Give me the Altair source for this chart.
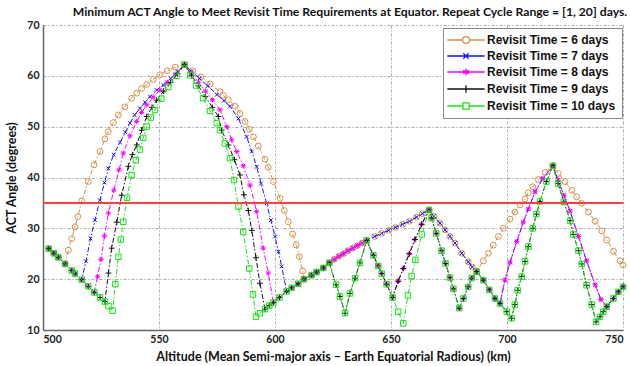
import altair as alt
import pandas as pd

# ---------------------------------------------------------------------------
# Minimum ACT angle (deg) versus altitude (km) for revisit times of 6..10 days.
# Each curve is assembled from the piecewise segments below; segments shared by
# several revisit times are listed once.  Points are (altitude_km, angle_deg).
# ---------------------------------------------------------------------------

# common lower envelope on the left (each curve leaves it at its own point)
ENV_A = [(502.5, 26.0), (504.7, 25.1), (506.6, 24.3), (509.5, 23.0)]
ENV_B = [(512.4, 21.7), (513.8, 21.1), (516.7, 19.9)]
ENV_C = [(519.5, 18.6), (522.1, 17.4)]
ENV_D = [(524.6, 16.4), (526.7, 15.6)]
ENV_E = [(528.2, 14.7), (530.0, 13.8)]

# large hump peaking at 561 km
RISE_6 = [(510.9, 25.7), (512.4, 28.0), (513.8, 30.3), (515.0, 32.3), (516.7, 35.4),
          (519.5, 39.2), (522.0, 42.5), (524.6, 45.1), (526.7, 47.6), (528.1, 49.0),
          (530.3, 50.8), (532.5, 52.3), (535.3, 53.9), (538.2, 55.6), (540.4, 56.6),
          (542.5, 57.5), (544.7, 58.3), (547.5, 59.3), (550.4, 60.2), (553.5, 61.0),
          (557.0, 61.7), (561.0, 62.2)]
FALL_6 = [(564.5, 61.0), (568.0, 59.8), (572.0, 58.4), (576.3, 56.9), (577.7, 56.2),
          (579.9, 55.3), (582.8, 54.0), (584.9, 52.6), (587.1, 51.0), (588.9, 49.5),
          (590.7, 48.0), (592.8, 46.2), (595.7, 43.6), (597.1, 42.0), (599.3, 39.2),
          (602.2, 35.9), (604.0, 33.5), (605.7, 31.3), (607.6, 28.9), (609.1, 26.7),
          (610.5, 24.4), (611.9, 21.6), (612.5, 20.0)]

RISE_7 = [(518.5, 23.5), (520.5, 28.0), (522.4, 31.6), (524.5, 35.5), (526.5, 39.0),
          (528.2, 41.8), (530.5, 44.5), (533.2, 46.9), (535.5, 48.9), (537.5, 50.7),
          (539.5, 52.3), (541.8, 53.6), (544.0, 54.8), (546.1, 55.9), (549.0, 57.2),
          (551.9, 58.2), (555.0, 59.5), (558.0, 60.9), (561.0, 62.2)]
FALL_7 = [(564.0, 60.9), (567.5, 59.5), (571.0, 58.0), (575.0, 56.3), (578.0, 55.1),
          (580.6, 54.0), (584.2, 51.6), (587.8, 48.0), (590.0, 45.1), (592.1, 42.1),
          (594.0, 38.8), (596.4, 34.9), (598.2, 31.6), (600.0, 28.4), (601.5, 25.4),
          (602.9, 22.5), (605.0, 17.6)]

RISE_8 = [(523.5, 20.5), (525.0, 23.9), (526.5, 28.5), (528.2, 33.0), (530.5, 37.5),
          (532.8, 41.5), (534.6, 44.8), (537.5, 48.2), (540.4, 51.0), (542.5, 52.8),
          (544.7, 54.3), (547.5, 55.8), (550.4, 57.2), (553.5, 58.7), (557.0, 60.3),
          (561.0, 62.2)]
FALL_8 = [(564.0, 60.5), (567.0, 58.7), (570.0, 57.0), (573.0, 55.3), (576.3, 53.3),
          (579.2, 50.0), (581.3, 47.4), (583.5, 45.1), (586.3, 42.3), (589.2, 38.5),
          (592.1, 33.3), (594.9, 26.1), (597.1, 21.2), (599.3, 15.4)]

RISE_9 = [(528.2, 21.2), (529.6, 26.1), (531.8, 31.2), (533.9, 36.5), (536.8, 42.2),
          (538.5, 44.5), (540.4, 46.4), (542.5, 49.3), (544.7, 52.0), (547.0, 53.8),
          (549.0, 55.2), (552.0, 57.0), (555.0, 58.7), (558.0, 60.4), (561.0, 62.2)]
FALL_9 = [(564.0, 60.1), (567.0, 58.0), (570.0, 55.9), (573.0, 53.8), (575.6, 52.0),
          (577.0, 49.3), (579.9, 46.4), (582.5, 43.5), (584.9, 40.5), (586.6, 36.6),
          (588.5, 33.5), (590.0, 29.6), (591.8, 24.2), (593.5, 19.2), (595.7, 14.1)]

RISE_10 = [(531.2, 19.0), (532.5, 24.4), (533.5, 27.8), (534.6, 31.3), (536.2, 36.0),
           (538.2, 40.5), (540.0, 43.4), (541.8, 45.5), (543.2, 47.8), (544.7, 50.0),
           (546.5, 51.8), (548.3, 53.3), (551.0, 55.5), (554.0, 57.8), (557.5, 60.0),
           (561.0, 62.2)]
FALL_10 = [(563.5, 60.1), (566.0, 58.1), (569.0, 55.6), (572.0, 53.1), (574.9, 50.7),
           (576.3, 49.3), (578.4, 46.7), (580.6, 43.8), (582.3, 39.5), (584.2, 34.3),
           (586.3, 29.3), (588.9, 22.1), (590.5, 17.0), (591.8, 12.6)]

# common envelope between the two humps
MID_1 = [(593.5, 13.3), (595.7, 14.1)]
MID_2 = [(597.5, 14.8), (599.3, 15.4)]
MID_3 = [(601.9, 16.4), (605.0, 17.6)]
MID_4 = [(607.2, 18.3), (610.0, 19.1), (612.5, 20.0)]
MID_5 = [(615.8, 20.8), (617.9, 21.4), (620.8, 22.2), (623.4, 23.2)]

# 623 - 640 km
UPPER_1 = [(625.5, 23.9), (627.5, 24.5), (629.5, 25.0), (631.5, 25.6), (633.5, 26.1),
           (635.5, 26.6), (637.5, 27.1), (639.5, 27.6)]
LOWER_1 = [(626.3, 18.9), (628.0, 16.6), (630.2, 13.3), (632.3, 17.2), (634.5, 20.2),
           (636.6, 23.2), (639.5, 27.6)]

# 640 - 666 km
UPPER_2 = [(643.0, 28.4), (646.0, 29.0), (649.0, 29.6), (652.0, 30.2), (655.0, 30.8),
           (658.0, 31.4), (661.0, 32.2), (663.5, 32.9), (666.4, 33.6)]
DOWN_2 = [(642.4, 24.7), (644.5, 22.6), (646.0, 21.1), (648.1, 19.0), (650.7, 16.4)]
UP_2 = [(653.1, 19.6), (655.3, 22.1), (657.9, 25.0), (660.3, 27.8), (663.2, 30.8),
        (666.4, 33.6)]
DEEP_2 = [(653.1, 13.6), (655.3, 11.3), (657.3, 16.8), (658.9, 20.6), (660.5, 23.8),
          (663.3, 28.8), (666.4, 33.6)]

# 666 - 687 km
DOWN_3U = [(668.5, 32.4), (671.1, 31.0), (673.3, 29.7), (675.4, 28.4), (677.6, 27.1),
           (680.5, 25.1), (683.3, 23.4), (685.0, 22.4), (686.9, 21.5)]
DOWN_3L = [(667.5, 32.0), (669.5, 29.0), (671.8, 25.6), (673.5, 23.1), (675.4, 20.3),
           (676.9, 18.1), (679.4, 14.3), (681.2, 16.2), (683.3, 18.5), (684.8, 20.2),
           (686.9, 21.5)]

# 687 - 720 km
RISE_4U = [(689.8, 23.6), (692.0, 25.1), (694.1, 26.7), (696.3, 28.4), (698.4, 30.0),
           (701.3, 31.8), (703.4, 33.2), (705.6, 34.6), (707.8, 35.8), (709.2, 37.0),
           (711.1, 38.2), (713.5, 39.6), (716.5, 41.0), (719.8, 42.3)]
DOWN_4 = [(689.8, 19.8), (692.4, 17.9), (694.8, 16.2), (697.0, 15.2)]
RISE_4M = [(699.1, 19.8), (701.3, 23.3), (704.2, 27.4), (707.0, 31.2), (709.2, 33.8),
           (712.1, 37.2), (715.5, 39.8), (719.8, 42.3)]
RISE_4L = [(699.9, 13.6), (702.0, 12.3), (703.4, 15.0), (704.6, 17.8), (706.3, 20.5),
           (707.8, 23.5), (709.2, 26.4), (711.1, 30.0), (712.7, 32.8), (714.2, 35.3),
           (717.0, 39.2), (719.8, 42.3)]

# 720 - 750 km
FALL_5U = [(722.1, 40.8), (725.0, 39.2), (727.9, 37.5), (730.0, 36.2), (732.2, 34.9),
           (735.1, 33.2), (738.0, 31.4), (740.9, 29.5), (743.0, 27.7), (745.9, 25.5),
           (748.7, 23.6), (750.0, 22.8)]
FALL_5M = [(722.0, 39.5), (724.5, 36.5), (727.2, 33.4), (730.8, 28.4), (734.3, 23.6),
           (738.0, 18.9), (740.5, 16.0)]
FALL_5L = [(722.0, 38.8), (724.5, 35.2), (727.2, 31.5), (728.6, 28.8), (730.8, 25.6),
           (732.2, 23.0), (734.3, 18.8), (736.5, 15.0), (738.4, 11.6)]
END_A = [(740.1, 12.6), (741.5, 13.6)]
END_B = [(743.0, 14.6), (745.9, 16.2), (748.0, 17.5), (750.0, 18.5)]

SERIES = ["Revisit Time = 6 days", "Revisit Time = 7 days", "Revisit Time = 8 days",
          "Revisit Time = 9 days", "Revisit Time = 10 days"]
COLORS = ["#d8914a", "#1010ff", "#ff00ff", "#111111", "#18e018"]

PATHS = [
    ENV_A + RISE_6 + FALL_6 + MID_5 + UPPER_1 + UPPER_2 + DOWN_3U + RISE_4U + FALL_5U,
    ENV_A + ENV_B + RISE_7 + FALL_7 + MID_4 + MID_5 + UPPER_1 + UPPER_2 + DOWN_3U
    + DOWN_4 + RISE_4M + FALL_5M + END_B,
    ENV_A + ENV_B + ENV_C + RISE_8 + FALL_8 + MID_3 + MID_4 + MID_5 + UPPER_1 + DOWN_2
    + UP_2 + DOWN_3L + DOWN_4 + RISE_4M + FALL_5M + END_B,
    ENV_A + ENV_B + ENV_C + ENV_D + RISE_9 + FALL_9 + MID_2 + MID_3 + MID_4 + MID_5
    + LOWER_1 + DOWN_2 + UP_2 + DOWN_3L + DOWN_4 + RISE_4L + FALL_5L + END_A + END_B,
    ENV_A + ENV_B + ENV_C + ENV_D + ENV_E + RISE_10 + FALL_10 + MID_1 + MID_2 + MID_3
    + MID_4 + MID_5 + LOWER_1 + DOWN_2 + DEEP_2 + DOWN_3L + DOWN_4 + RISE_4L + FALL_5L
    + END_A + END_B,
]

THRESHOLD = 35

# plot markers (unit-size paths) and legend symbols (line + marker)
MARKERS = ["circle",
           "M-1,-1L1,1M-1,1L1,-1",
           "M-1,0H1M0,-1V1M-0.7,-0.7L0.7,0.7M-0.7,0.7L0.7,-0.7",
           "M-1,0H1M0,-1V1",
           "square"]
MARKER_SIZES = [34, 14, 28, 34, 30]
LEGEND_SYMBOLS = [
    "M-5.5,0H-1M1,0H5.5M-1,0A1,1,0,1,0,1,0A1,1,0,1,0,-1,0",
    "M-5.5,0H5.5M-0.8,-0.8L0.8,0.8M-0.8,0.8L0.8,-0.8",
    "M-5.5,0H5.5M0,-1V1M-0.85,-0.55L0.85,0.55M-0.85,0.55L0.85,-0.55",
    "M-5.5,0H5.5M0,-1.1V1.1",
    "M-5.5,0H-0.9M0.9,0H5.5M-0.9,-0.9H0.9V0.9H-0.9Z",
]

rows = []
for name, path in zip(SERIES, PATHS):
    for i, (a, v) in enumerate(path):
        rows.append({"series": name, "idx": i, "alt": a, "ang": v})
df = pd.DataFrame(rows)

x_enc = alt.X("alt:Q", scale=alt.Scale(domain=[500, 750], nice=False),
              axis=alt.Axis(values=[500, 550, 600, 650, 700, 750], format="d",
                            title="Altitude (Mean Semi-major axis \u2013 Earth Equatorial Radious) (km)"))
y_enc = alt.Y("ang:Q", scale=alt.Scale(domain=[10, 70], nice=False),
              axis=alt.Axis(values=list(range(10, 71, 5)), title="ACT Angle (degrees)"))

layers = []
for name, color, marker, msize in zip(SERIES, COLORS, MARKERS, MARKER_SIZES):
    sub = df[df["series"] == name]
    base = alt.Chart(sub).encode(x=x_enc, y=y_enc, order="idx:Q")
    layers.append(base.mark_line(color=color, strokeWidth=1, strokeDash=[5, 2, 1.5, 2]))
    layers.append(base.mark_point(shape=marker, size=msize, filled=False, color=color,
                                  strokeWidth=1, opacity=1))

red = alt.Chart(pd.DataFrame({"t": [THRESHOLD]})).mark_rule(
    color="#ff4040", strokeWidth=2).encode(y=alt.Y("t:Q"))
layers.append(red)

legend_kw = dict(title=None, orient="none", legendX=400, legendY=3,
                 fillColor="white", strokeColor="#8a8a8a", padding=6,
                 labelFont="Liberation Sans", labelFontWeight="bold", labelFontSize=12,
                 labelColor="#111", symbolSize=46, symbolStrokeWidth=1.3,
                 symbolOffset=11, labelOffset=15, rowPadding=4)
first = df[df["idx"] == 0]
legend_layer = alt.Chart(first).mark_point(opacity=0, filled=False, strokeWidth=1.3).encode(
    x="alt:Q", y="ang:Q",
    color=alt.Color("series:N", scale=alt.Scale(domain=SERIES, range=COLORS),
                    legend=alt.Legend(**legend_kw)),
    shape=alt.Shape("series:N", scale=alt.Scale(domain=SERIES, range=LEGEND_SYMBOLS),
                    legend=alt.Legend(**legend_kw)),
)
layers.append(legend_layer)

chart = alt.layer(*layers).properties(
    width=580, height=305,
    title=alt.TitleParams(
        "Minimum ACT Angle to Meet Revisit Time Requirements at Equator. Repeat Cycle Range = [1, 20] days.",
        font="Lato", fontWeight="bold", fontSize=12.2, anchor="middle", dx=17, offset=2,
        color="#111"),
    autosize=alt.AutoSizeParams(type="none"),
    padding={"left": 43, "top": 25, "right": 7, "bottom": 36},
).configure_view(stroke=None).configure_axis(
    labelFont="Lato", labelFontWeight="bold", labelFontSize=10.5, labelColor="#222",
    titleFont="Lato", titleFontWeight="bold", titleFontSize=12.5, titleColor="#111",
    gridColor="#9a9a9a", gridDash=[3, 2, 1, 2], gridWidth=0.9,
    domainColor="#666", domainWidth=1.5, ticks=False, labelPadding=4,
).configure_axisY(titlePadding=8).configure_axisX(titlePadding=6)

chart.save("out.html", embed_options={"renderer": "svg", "actions": False})
